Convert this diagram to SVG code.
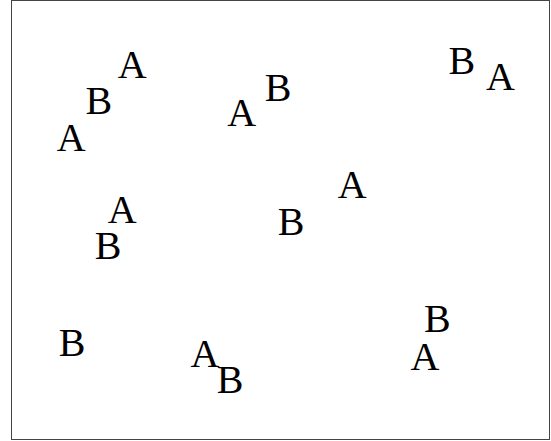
<svg xmlns="http://www.w3.org/2000/svg" width="551" height="441" viewBox="0 0 551 441">
<style>
.l{font-family:"Liberation Serif","Times New Roman",serif;font-size:40px;fill:#000;text-anchor:middle}
</style>
<rect x="0" y="0" width="551" height="441" fill="#fff"/>
<rect x="11.5" y="0.5" width="538" height="439" fill="none" stroke="#444" stroke-width="1"/>
<g id="labels">
<text class="l" x="132.2" y="78.3">A</text>
<text class="l" x="98.9" y="114.3">B</text>
<text class="l" x="71.3" y="151">A</text>
<text class="l" x="241.8" y="126">A</text>
<text class="l" x="278.2" y="100.7">B</text>
<text class="l" x="122.3" y="223.4">A</text>
<text class="l" x="108.2" y="259">B</text>
<text class="l" x="461.9" y="74">B</text>
<text class="l" x="500.5" y="90">A</text>
<text class="l" x="352.2" y="198.3">A</text>
<text class="l" x="291.2" y="235">B</text>
<text class="l" x="72.2" y="356">B</text>
<text class="l" x="205" y="366.7">A</text>
<text class="l" x="230.2" y="393.3">B</text>
<text class="l" x="437.4" y="332.3">B</text>
<text class="l" x="425" y="370">A</text>
</g>
</svg>
